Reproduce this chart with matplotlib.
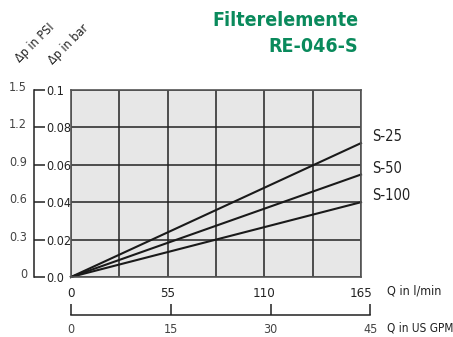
import matplotlib
matplotlib.use("agg")
import matplotlib.pyplot as plt
import numpy as np

# flow in l/min and pressure drop in bar (straight lines through origin)
flow = [0, 165]
series = {
    "S-25": [0, 0.0716],
    "S-50": [0, 0.0548],
    "S-100": [0, 0.040],
}
grid_x = [0, 27.5, 55, 82.5, 110, 137.5, 165]
x_labels = ["0", "", "55", "", "110", "", "165"]
bar_ticks = [0.0, 0.02, 0.04, 0.06, 0.08, 0.1]
bar_labels = ["0.0", "0.02", "0.04", "0.06", "0.08", "0.1"]
psi_ticks = [0, 0.3, 0.6, 0.9, 1.2, 1.5]
psi_labels = ["0", "0.3", "0.6", "0.9", "1.2", "1.5"]
gpm_ticks = [0, 15, 30, 45]
title_lines = ["Filterelemente", "RE-046-S"]

plt.rcParams["font.family"] = ["DejaVu Sans"]
plt.rcParams["font.stretch"] = "condensed"
W, H = 453, 337
fig = plt.figure(figsize=(W / 100, H / 100), dpi=100)


def fx(px):
    return px / W


def fy(py):
    return 1 - py / H


x0, x1, ytop, ybot = 71, 361, 90, 277
ax = fig.add_axes([fx(x0), fy(ybot), fx(x1 - x0), fy(ytop) - fy(ybot)])
ax.set_facecolor("#e7e7e7")
ax.set_xlim(0, 165)
ax.set_ylim(0, 0.1)
ax.set_xticks(grid_x, x_labels)
ax.set_yticks(bar_ticks)
ax.tick_params(axis="x", length=0, labelsize=9.5, colors="#222", pad=7)
ax.tick_params(axis="y", length=0, labelleft=False)
ax.grid(True, color="#222", lw=1.1)
ax.set_axisbelow(True)
for s in ax.spines.values():
    s.set_color("#555")
    s.set_linewidth(1.2)

for name, vals in series.items():
    ax.plot(flow, vals, color="#1a1a1a", lw=1.5, clip_on=False)
    ax.annotate(name, (flow[-1], vals[-1]), xytext=(8, 4.5), textcoords="offset points",
                ha="left", va="center", fontsize=10.5, color="#222")

ax.text(fx(387), fy(291), "Q in l/min", transform=fig.transFigure, ha="left", va="center",
        fontsize=9, color="#222")

# pressure scale on the left
ax_bar = fig.add_axes([fx(34), fy(ybot), 1e-5, fy(ytop) - fy(ybot)])
ax_bar.set_ylim(0, 0.1)
ax_bar.set_xticks([])
for k in ["top", "bottom", "right"]:
    ax_bar.spines[k].set_visible(False)
ax_bar.spines["left"].set_linewidth(1.1)
ax_bar.spines["left"].set_color("#222")
ax_bar.yaxis.tick_right()
ax_bar.set_yticks(bar_ticks, bar_labels)
ax_bar.tick_params(axis="y", direction="out", length=8, width=1.1, color="#222",
                   labelsize=9, labelcolor="#222", pad=1)
ax_bar.patch.set_visible(False)

ax_psi = fig.add_axes([fx(34), fy(ybot - 4), 1e-5, fy(ytop) - fy(ybot)])
ax_psi.set_ylim(0, 1.5)
ax_psi.set_xticks([])
ax_psi.set_yticks(psi_ticks, psi_labels)
ax_psi.tick_params(axis="y", length=0, labelsize=9, labelcolor="#444", pad=5)
for s in ax_psi.spines.values():
    s.set_visible(False)
ax_psi.patch.set_visible(False)

# US GPM scale below
gpm_max_px = x0 + (x1 - x0) * 45 * 3.785 / 165
ax_gpm = fig.add_axes([fx(x0), fy(315), fx(gpm_max_px - x0), 1e-5])
ax_gpm.set_xlim(0, 45)
ax_gpm.set_yticks([])
for k in ["top", "left", "right"]:
    ax_gpm.spines[k].set_visible(False)
ax_gpm.spines["bottom"].set_linewidth(1.1)
ax_gpm.spines["bottom"].set_color("#222")
ax_gpm.set_xticks(gpm_ticks)
ax_gpm.tick_params(axis="x", direction="in", length=8, width=1.1, color="#222",
                   labelsize=9, labelcolor="#444", pad=6)
ax_gpm.patch.set_visible(False)
fig.text(fx(387), fy(328), "Q in US GPM", ha="left", va="center", fontsize=8.5, color="#222")

# rotated axis captions
fig.text(fx(35), fy(43), "\u0394p in PSI", rotation=45, ha="center", va="center",
         rotation_mode="anchor", fontsize=9, color="#222")
fig.text(fx(68), fy(44), "\u0394p in bar", rotation=45, ha="center", va="center",
         rotation_mode="anchor", fontsize=9, color="#222")

# title
fig.text(fx(358), fy(20), title_lines[0], ha="right", va="center", fontsize=14,
         fontweight="bold", color="#0a8a5c")
fig.text(fx(358), fy(46), title_lines[1], ha="right", va="center", fontsize=14,
         fontweight="bold", color="#0a8a5c")

fig.savefig("out.png", dpi=100)
